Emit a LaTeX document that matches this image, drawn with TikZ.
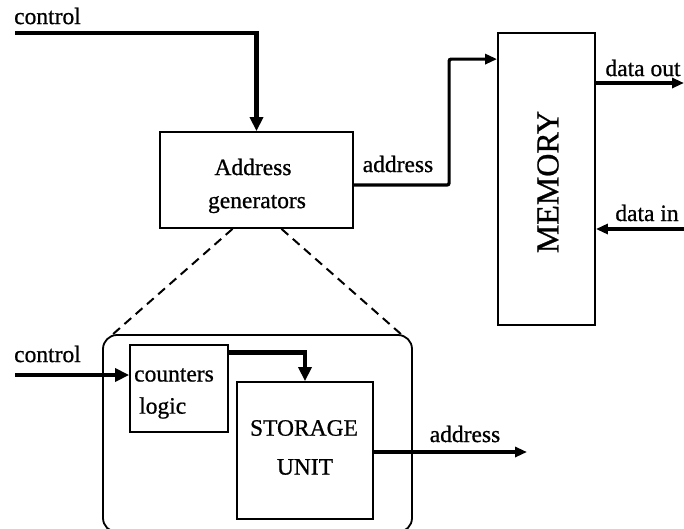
\documentclass[tikz,border=0pt]{standalone}
\usepackage{fontspec}
\setmainfont{Liberation Serif}[FakeBold=0.8]
\usetikzlibrary{arrows.meta}
\begin{document}
\begin{tikzpicture}[x=1pt,y=-1pt,
  box/.style={draw=black,line width=1.8pt,inner sep=0pt,minimum width=#1},
  lbl/.style={font=\fontsize{23.5}{28}\selectfont,inner sep=0pt},
  heavy/.style={line width=4.8pt,-{Triangle[length=14pt,width=13pt]}},
  medium/.style={line width=3.2pt,-{Triangle[length=12pt,width=10pt]}},
  dashline/.style={line width=2pt,dash pattern=on 9pt off 6pt}]
\useasboundingbox (0,0) rectangle (684,528);
% top level
\node[box=193pt,minimum height=96pt] (ag) at (256.5,180) {};
\node[lbl] (agt1) at (253,167) {Address};
\node[lbl] (agt2) at (257,204) {generators};
\node[box=97pt,minimum height=292pt] (mem) at (546.5,179) {};
\node[font=\fontsize{32}{36}\selectfont,inner sep=0pt,rotate=90] (memt) at (548,182) {MEMORY};
\node[lbl,anchor=west] (ctl) at (14,16) {control};
\coordinate (c1) at (15,33);
\draw[heavy] (c1) -| (ag.north);
\node[lbl] (adr1) at (398,164) {address};
\draw[medium,rounded corners=2pt] ([yshift=-5pt]ag.east) -| ([xshift=-48pt,yshift=-27pt]mem.north west) -- ([yshift=-27pt]mem.north west);
\node[lbl] (dout) at (643,68) {data out};
\coordinate (doutend) at (684,83);
\draw[medium] (mem.east |- doutend) -- (doutend);
\node[lbl] (din) at (647,213) {data in};
\coordinate (dinstart) at (684,229);
\draw[medium] (dinstart) -- (mem.east |- dinstart);
% zoomed detail
\node[draw=black,line width=1.8pt,rounded corners=14pt,minimum width=309pt,minimum height=197pt,inner sep=0pt] (grp) at (257.5,433.5) {};
\coordinate (gl) at (112,335);
\coordinate (gr) at (402,335);
\draw[dashline] ([xshift=-24pt]ag.south) -- (gl);
\draw[dashline] ([xshift=25pt]ag.south) -- (gr);
\node[box=98pt,minimum height=87pt] (cnt) at (179,388.5) {};
\node[lbl,anchor=west] (cntt1) at (134,375) {counters};
\node[lbl,anchor=west] (cntt2) at (139,408) {logic};
\node[box=136pt,minimum height=137pt] (sto) at (305,450.5) {};
\node[lbl] (stot1) at (304,428) {STORAGE};
\node[lbl] (stot2) at (305,467) {UNIT};
\node[lbl,anchor=west] (ctl2) at (14,354) {control};
\coordinate (c2) at (15,375);
\draw[heavy] (c2) -- (cnt.west |- c2);
\draw[heavy] ([yshift=36pt]cnt.east) -| (sto.north);
\node[lbl] (adr2) at (465,434) {address};
\coordinate (aend) at (527,452);
\draw[medium] (sto.east |- aend) -- (aend);
\end{tikzpicture}
\end{document}
